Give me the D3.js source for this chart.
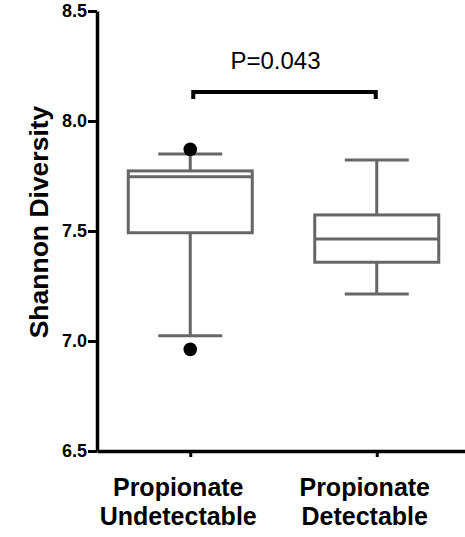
<!DOCTYPE html>
<html>
<head>
<meta charset="utf-8">
<script src="https://cdn.jsdelivr.net/npm/d3@7"></script>
<style>
  body { margin: 0; background: #fff; }
  svg { display: block; font-family: "Liberation Sans", Arial, sans-serif; }
</style>
</head>
<body>
<div class="box-chart"></div>
<script>
// data
const categories = ['Undetectable', 'Detectable'];
const labelLines = [['Propionate', 'Undetectable'], ['Propionate', 'Detectable']];
const whiskerLow = [7.024, 7.214];
const q1 = [7.492, 7.358];
const median = [7.747, 7.464];
const q3 = [7.773, 7.573];
const whiskerHigh = [7.85, 7.823];
const outliers = [[7.871, 6.962], []];
const yTicks = [6.5, 7.0, 7.5, 8.0, 8.5];
const pLabel = 'P=0.043';

const width = 465, height = 537;
const margin = {top: 11, right: 0, bottom: 86, left: 97};
const plotH = height - margin.top - margin.bottom;

const svg = d3.select('.box-chart').append('svg')
  .attr('width', width)
  .attr('height', height);

const x = d3.scalePoint()
  .domain(categories)
  .range([margin.left, 470])
  .padding(0.5);

const y = d3.scaleLinear()
  .domain([6.5, 8.5])
  .range([margin.top + plotH, margin.top]);

const boxGray = '#666';
const halfBox = 62, halfCap = 32;

let boxes = svg.selectAll('.box')
  .data(categories)
  .enter().append('g')
  .attr('class', 'box')
  .attr('stroke', boxGray)
  .attr('stroke-width', 3)
  .attr('fill', 'none');

// whisker stems
boxes.append('line')
  .attr('x1', d => x(d)).attr('x2', d => x(d))
  .attr('y1', (d, i) => y(whiskerLow[i]))
  .attr('y2', (d, i) => y(q1[i]));
boxes.append('line')
  .attr('x1', d => x(d)).attr('x2', d => x(d))
  .attr('y1', (d, i) => y(q3[i]))
  .attr('y2', (d, i) => y(whiskerHigh[i]));

// caps
boxes.append('line')
  .attr('x1', d => x(d) - halfCap).attr('x2', d => x(d) + halfCap)
  .attr('y1', (d, i) => y(whiskerLow[i]))
  .attr('y2', (d, i) => y(whiskerLow[i]));
boxes.append('line')
  .attr('x1', d => x(d) - halfCap).attr('x2', d => x(d) + halfCap)
  .attr('y1', (d, i) => y(whiskerHigh[i]))
  .attr('y2', (d, i) => y(whiskerHigh[i]));

// box and median
boxes.append('rect')
  .attr('x', d => x(d) - halfBox)
  .attr('width', halfBox * 2)
  .attr('y', (d, i) => y(q3[i]))
  .attr('height', (d, i) => y(q1[i]) - y(q3[i]))
  .attr('fill', '#fff');
boxes.append('line')
  .attr('x1', d => x(d) - halfBox).attr('x2', d => x(d) + halfBox)
  .attr('y1', (d, i) => y(median[i]))
  .attr('y2', (d, i) => y(median[i]));

// outliers
categories.forEach((c, i) => {
  svg.selectAll('.out' + i)
    .data(outliers[i])
    .enter().append('circle')
    .attr('cx', x(c))
    .attr('cy', d => y(d))
    .attr('r', 6.8)
    .attr('fill', '#000');
});

// axes
let yAxis = svg.append('g')
  .attr('transform', 'translate(' + margin.left + ',0)')
  .call(d3.axisLeft(y).tickValues(yTicks).tickFormat(d3.format('.1f')).tickSize(9).tickSizeOuter(0).tickPadding(1));
yAxis.select('.domain').attr('stroke-width', 3.5);
yAxis.selectAll('.tick line').attr('stroke-width', 3);
yAxis.selectAll('.tick text')
  .attr('font-size', 18).attr('font-weight', 'bold').attr('fill', '#000')
  .attr('font-family', '"Liberation Sans", Arial, sans-serif');

let xAxis = svg.append('g')
  .attr('transform', 'translate(0,' + y(6.5) + ')')
  .call(d3.axisBottom(x).tickSize(6).tickSizeOuter(0).tickFormat(''));
xAxis.select('.domain').attr('stroke-width', 3.5);
xAxis.selectAll('.tick line').attr('stroke-width', 3);

// category labels
categories.forEach((c, i) => {
  let t = svg.append('text')
    .attr('x', x(c) - 12)
    .attr('y', 496)
    .attr('text-anchor', 'middle')
    .attr('font-size', 25)
    .attr('font-weight', 'bold');
  labelLines[i].forEach((line, j) => {
    t.append('tspan')
      .attr('x', x(c) - 12)
      .attr('dy', j === 0 ? 0 : 29)
      .text(line);
  });
});

// y title
svg.append('text')
  .attr('transform', 'translate(48,222) rotate(-90)')
  .attr('text-anchor', 'middle')
  .attr('font-size', 26.5)
  .attr('font-weight', 'bold')
  .text('Shannon Diversity');

// significance bracket
let bx1 = x(categories[0]) + 3, bx2 = x(categories[1]) - 1, by = 92;
svg.append('path')
  .attr('d', 'M' + bx1 + ',' + (by + 7) + 'V' + by + 'H' + bx2 + 'V' + (by + 7))
  .attr('fill', 'none')
  .attr('stroke', '#000')
  .attr('stroke-width', 4);
svg.append('text')
  .attr('x', (bx1 + bx2) / 2 - 9)
  .attr('y', 69)
  .attr('text-anchor', 'middle')
  .attr('font-size', 24)
  .text(pLabel);
</script>
</body>
</html>
